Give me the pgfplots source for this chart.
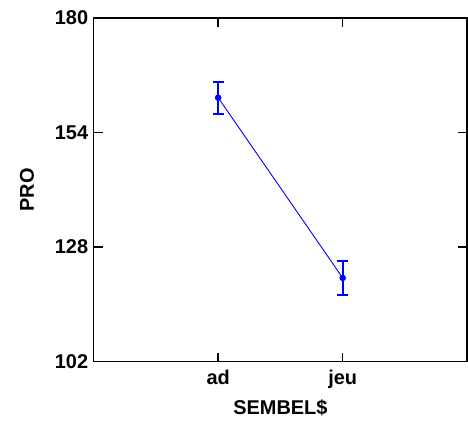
\documentclass[border=0pt]{standalone}
\usepackage{fontspec}
\setmainfont{Liberation Sans}
\usepackage{pgfplots}
\pgfplotsset{compat=1.18}
\begin{document}
\begin{tikzpicture}
\begin{axis}[
  scale only axis,
  width=375pt, height=345pt,
  xmin=-1, xmax=2,
  ymin=102, ymax=180,
  xtick={0,1}, xticklabels={ad,jeu},
  ytick={102,128,154,180},
  tick align=inside,
  major tick length=9pt,
  axis line style={line width=1.6pt},
  every tick/.style={black, line width=1.6pt},
  tick label style={font=\fontsize{20}{23}\selectfont\bfseries},
  /pgf/number format/assume math mode=true,
  yticklabel style={xshift=-2pt},
  xticklabel style={yshift=-5pt},
  xlabel={SEMBEL\$}, ylabel={PRO},
  label style={font=\fontsize{20}{23}\selectfont\bfseries},
  xlabel style={yshift=-4pt},
  ylabel style={yshift=14pt},
]
\addplot[blue, line width=0.9pt, mark=*, mark size=2.8pt,
  error bars/.cd, y dir=both, y explicit,
  error bar style={line width=2pt},
  error mark options={rotate=90, mark size=5.5pt, line width=2pt}]
  coordinates {(0,161.9) +- (0,3.6) (1,121.0) +- (0,3.8)};
\end{axis}
\useasboundingbox (current axis.south west) ++(-94pt,-62pt) rectangle ([yshift=18pt]current axis.north east);
\end{tikzpicture}
\end{document}
